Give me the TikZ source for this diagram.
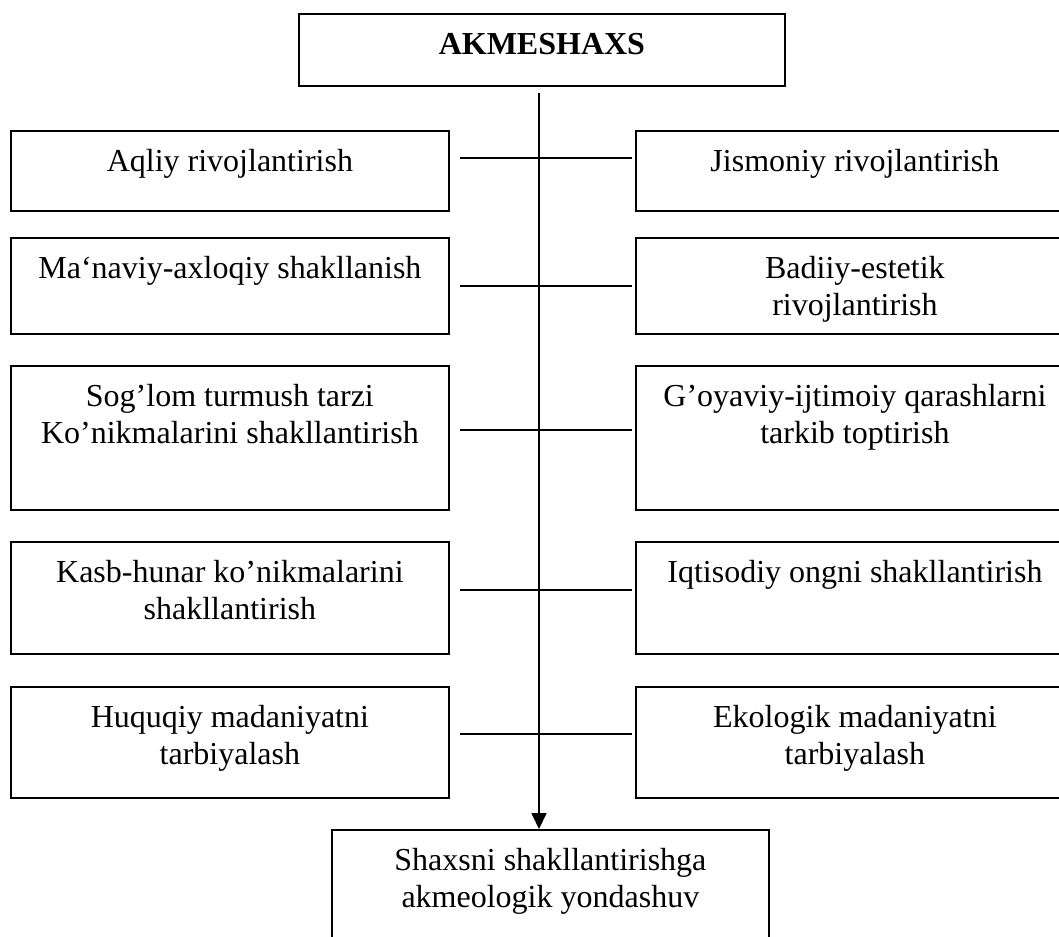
\documentclass[tikz,border=0pt]{standalone}
\usepackage{fontspec}
\setmainfont{Liberation Serif}
\usetikzlibrary{arrows.meta,positioning}
\tikzstyle{block}=[draw, line width=1.8pt, inner sep=0pt, anchor=north west]
\tikzstyle{blocktext}=[font=\fontsize{32}{36.8}\selectfont, align=center, inner sep=0pt]
\tikzstyle{link}=[line width=1.7pt, shorten <=10pt, shorten >=3pt]
\newcommand{\block}{\node[block]}
\newcommand{\blocktext}{\node[blocktext]}

\begin{document}
\begin{tikzpicture}[x=1pt, y=-1pt]
	\useasboundingbox (0,0) rectangle (1059,936);
	%% the boxes
	\block (top) at (298,13) [minimum width=486pt, minimum height=72pt] {};
	\block (l1) at (10,130) [minimum width=438pt, minimum height=80pt] {};
	\block (r1) at (635,130) [minimum width=438pt, minimum height=80pt] {};
	\block (l2) at (10,237) [minimum width=438pt, minimum height=96pt] {};
	\block (r2) at (635,237) [minimum width=438pt, minimum height=96pt] {};
	\block (l3) at (10,365) [minimum width=438pt, minimum height=144pt] {};
	\block (r3) at (635,365) [minimum width=438pt, minimum height=144pt] {};
	\block (l4) at (10,541) [minimum width=438pt, minimum height=112pt] {};
	\block (r4) at (635,541) [minimum width=438pt, minimum height=112pt] {};
	\block (l5) at (10,686) [minimum width=438pt, minimum height=111pt] {};
	\block (r5) at (635,686) [minimum width=438pt, minimum height=111pt] {};
	\block (bot) at (331,829) [minimum width=437pt, minimum height=140pt] {};
	%% the texts
	\blocktext (ttop) [below=20pt of top.north] {\bfseries AKMESHAXS};
	\blocktext (tl1) [below=19pt of l1.north] {Aqliy rivojlantirish};
	\blocktext (tr1) [below=19pt of r1.north] {Jismoniy rivojlantirish};
	\blocktext (tl2) [below=19pt of l2.north] {Ma‘naviy-axloqiy shakllanish};
	\blocktext (tr2) [below=19pt of r2.north] {Badiiy-estetik\\rivojlantirish};
	\blocktext (tl3) [below=19pt of l3.north] {Sog’lom turmush tarzi\\Ko’nikmalarini shakllantirish};
	\blocktext (tr3) [below=19pt of r3.north] {G’oyaviy-ijtimoiy qarashlarni\\tarkib toptirish};
	\blocktext (tl4) [below=19pt of l4.north] {Kasb-hunar ko’nikmalarini\\shakllantirish};
	\blocktext (tr4) [below=19pt of r4.north] {Iqtisodiy ongni shakllantirish};
	\blocktext (tl5) [below=19pt of l5.north] {Huquqiy madaniyatni\\tarbiyalash};
	\blocktext (tr5) [below=19pt of r5.north] {Ekologik madaniyatni\\tarbiyalash};
	\blocktext (tbot) [below=19pt of bot.north] {Shaxsni shakllantirishga\\akmeologik yondashuv};
	%% for the edges
	\coordinate (trunk) at (539,93);
	\draw[line width=1.7pt, -{Triangle[width=15pt, length=16pt]}] (trunk) -- (trunk |- bot.north);
	\draw[link] ([yshift=13pt]l1.east) -- ([yshift=13pt]r1.west);
	\draw[link] (l2.east) -- (r2.west);
	\draw[link] ([yshift=8pt]l3.east) -- ([yshift=8pt]r3.west);
	\draw[link] ([yshift=8pt]l4.east) -- ([yshift=8pt]r4.west);
	\draw[link] ([yshift=8.5pt]l5.east) -- ([yshift=8.5pt]r5.west);
\end{tikzpicture}
\end{document}
